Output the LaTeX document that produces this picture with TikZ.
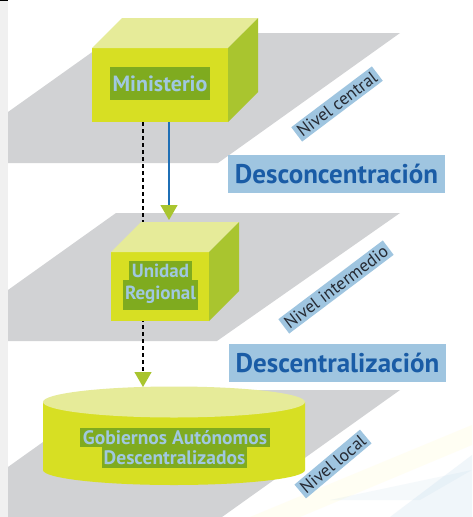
\documentclass[tikz,border=0pt]{standalone}
\usepackage{fontspec}
\setmainfont{PT Sans}
\usepackage{tikz}
\usepackage{xcolor}
\definecolor{planecolor}{HTML}{D1D2D4}
\definecolor{stripcolor}{HTML}{F0F0F0}
\definecolor{frontcolor}{HTML}{D7DF23}
\definecolor{topcolor}{HTML}{E6EB99}
\definecolor{sidecolor}{HTML}{A9C52F}
\definecolor{labelcolor}{HTML}{7FAB1F}
\definecolor{labeltext}{HTML}{A0C8E0}
\definecolor{tagcolor}{HTML}{9FC5E0}
\definecolor{titlecolor}{HTML}{1A5CA6}
\definecolor{linkcolor}{HTML}{1F6FB5}
\definecolor{tiptext}{HTML}{262A33}
\usetikzlibrary{
  arrows.meta,
}

\begin{document}
\begin{tikzpicture}[x=1pt,y=-1pt]
	\tikzstyle{every node}=[inner sep=0pt, outer sep=0pt]
	\tikzstyle{front}=[fill=frontcolor]
	\tikzstyle{boxlabel}=[fill=labelcolor, text=labeltext, font=\bfseries\fontsize{19}{20}\selectfont]
	\tikzstyle{tag}=[fill=tagcolor, text=tiptext, minimum height=18, inner xsep=3pt, font=\fontsize{17.5}{18}\selectfont]
	\tikzstyle{title}=[fill=tagcolor, text=titlecolor, minimum width=217, minimum height=38, font=\bfseries\fontsize{27}{28}\selectfont]
	\tikzstyle{dashlink}=[black, line width=1.2pt, dash pattern=on 4pt off 3pt, -{Triangle[width=17pt,length=15pt,sep=0pt,color=sidecolor,fill=sidecolor]}]
	\tikzstyle{solidlink}=[linkcolor, line width=1.2pt, -{Triangle[width=17pt,length=15pt,sep=0pt,color=sidecolor,fill=sidecolor]}]
	\useasboundingbox (0,0) rectangle (472,517);
	% background
	\fill[white] (0,0) rectangle (472,517);
	\fill[stripcolor] (0,0) rectangle (8,517);
	\fill[black] (0,0) rectangle (8,1);
	\begin{scope}
		\clip (0,0) rectangle (472,517);
		\fill[yellow!60!white, opacity=0.08] (250,517) -- (472,425) -- (472,445) -- (300,517) -- cycle;
		\fill[tagcolor, opacity=0.15] (390,517) -- (472,455) -- (472,517) -- cycle;
		\fill[tagcolor, opacity=0.1] (330,500) -- (472,470) -- (420,500) -- cycle;
	\end{scope}
	% planes
	\fill[planecolor] (8,163) -- (8,112) -- (119,33) -- (400,33) -- (218,163) -- cycle;
	\fill[planecolor] (8,341) -- (8,290) -- (116,213) -- (400,213) -- (217,341) -- cycle;
	\fill[planecolor] (8,517) -- (8,467) -- (116,390) -- (400,390) -- (222,517) -- cycle;
	% cylinder
	\fill[frontcolor] (43,402) -- (43,470) arc[start angle=180, end angle=0, x radius=131, y radius=15] -- (305,402) -- cycle;
	\fill[topcolor] (174,402) ellipse[x radius=131, y radius=15.5];
	\node (gad1) [boxlabel, minimum width=190, minimum height=19, font=\bfseries\fontsize{19.5}{20}\selectfont] at (175,437.5) {Gobiernos Autónomos};
	\node (gad2) [boxlabel, minimum width=145, minimum height=21, font=\bfseries\fontsize{19.5}{20}\selectfont] at (174.5,457.5) {Descentralizados};
	\coordinate (gadtop) at (143,387);
	% first box
	\node (min) [front, minimum width=136, minimum height=74] at (160,85) {};
	\fill[topcolor] (min.north west) -- ++(30,-30) -- ++(136,0) -- (min.north east) -- cycle;
	\fill[sidecolor] (min.north east) -- ++(30,-30) -- ++(0,74) -- (min.south east) -- cycle;
	\node (minlabel) [boxlabel, minimum width=100, minimum height=33, font=\bfseries\fontsize{22}{23}\selectfont] at (160,83.5) {Ministerio};
	% dashed arrow behind second box
	\draw [dashlink] ([xshift=-17pt]min.south) -- (gadtop);
	% second box
	\node (uni) [front, minimum width=98, minimum height=69] at (160,286.5) {};
	\fill[topcolor] (uni.north west) -- ++(30,-30) -- ++(98,0) -- (uni.north east) -- cycle;
	\fill[sidecolor] (uni.north east) -- ++(30,-30) -- ++(0,69) -- (uni.south east) -- cycle;
	\node (uni1) [boxlabel, minimum width=63, minimum height=19] at (160.5,270.5) {Unidad};
	\node (uni2) [boxlabel, minimum width=75, minimum height=30] at (160.5,295) {Regional};
	\coordinate (unitop) at (169,220);
	\draw [solidlink] ([xshift=9pt]min.south) -- (unitop);
	% levels
	\node (central) [tag, rotate=37] at (337,104) {Nivel central};
	\node (inter) [tag, rotate=37] at (336,287) {Nivel intermedio};
	\node (local) [tag, rotate=40] at (333,464) {Nivel local};
	\node (desconc) [title] at (336.5,174) {Desconcentración};
	\node (descent) [title] at (337.5,363) {Descentralización};
\end{tikzpicture}
\end{document}
